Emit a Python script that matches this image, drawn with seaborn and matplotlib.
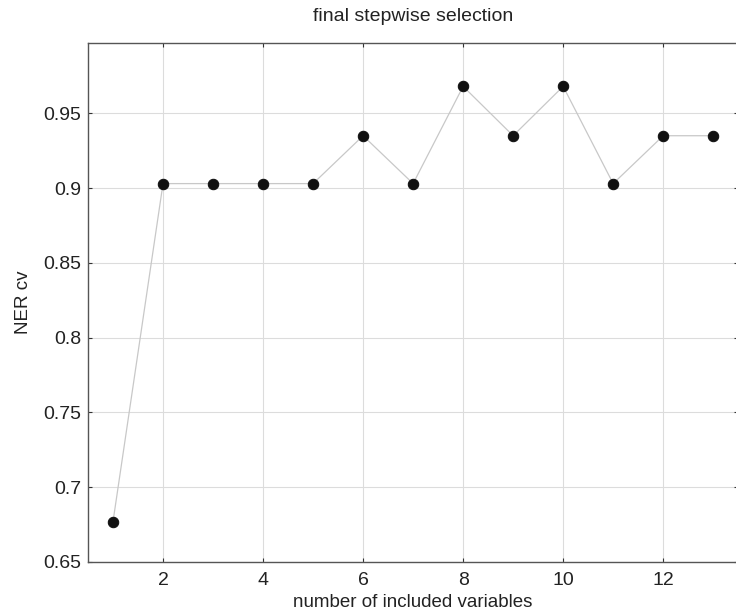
import numpy as np
import pandas as pd
import matplotlib
matplotlib.use('Agg')
import matplotlib.pyplot as plt
import seaborn as sns

n_vars = [1, 2, 3, 4, 5, 6, 7, 8, 9, 10, 11, 12, 13]
ner_cv = [0.677, 0.903, 0.903, 0.903, 0.903, 0.935, 0.903, 0.968, 0.935, 0.968, 0.903, 0.935, 0.935]
x_ticks = [2, 4, 6, 8, 10, 12]
y_ticks = [0.65, 0.7, 0.75, 0.8, 0.85, 0.9, 0.95]
y_labels = ['0.65', '0.7', '0.75', '0.8', '0.85', '0.9', '0.95']

df = pd.DataFrame({'n': n_vars, 'ner': ner_cv})

sns.set_style('whitegrid')
plt.rcParams['font.family'] = ['Liberation Sans', 'DejaVu Sans']

fig = plt.figure(figsize=(7.36, 6.12), dpi=100)
ax = fig.add_axes([88 / 736, 1 - 562 / 612, 1 - 88 / 736 + 0.003, (562 - 43) / 612])

sns.lineplot(data=df, x='n', y='ner', ax=ax, color='#c8c8c8', linewidth=0.9,
             marker='o', markersize=7.5, markerfacecolor='#111111', markeredgecolor='#111111')

ax.set_xlim(0.5, 13.5)
ax.set_ylim(0.65, 0.997)
ax.set_xticks(x_ticks)
ax.set_yticks(y_ticks)
ax.set_yticklabels(y_labels)
ax.grid(True, color='#dcdcdc', linewidth=0.8)

for side in ['left', 'bottom', 'top']:
    ax.spines[side].set_visible(True)
    ax.spines[side].set_color('#555555')
    ax.spines[side].set_linewidth(1.0)
ax.spines['right'].set_visible(False)

ax.tick_params(direction='in', length=3, width=0.8, color='#333333',
               top=True, right=True, bottom=True, left=True,
               labelsize=14, labelcolor='#222222', pad=5)
ax.tick_params(axis='x', pad=7)

ax.set_title('final stepwise selection', fontsize=14, color='#222222', pad=16)
ax.set_xlabel('number of included variables', fontsize=13.5, color='#222222', labelpad=4)
ax.set_ylabel('NER cv', fontsize=13.5, color='#222222', labelpad=8)

fig.savefig('out.png', dpi=100)
